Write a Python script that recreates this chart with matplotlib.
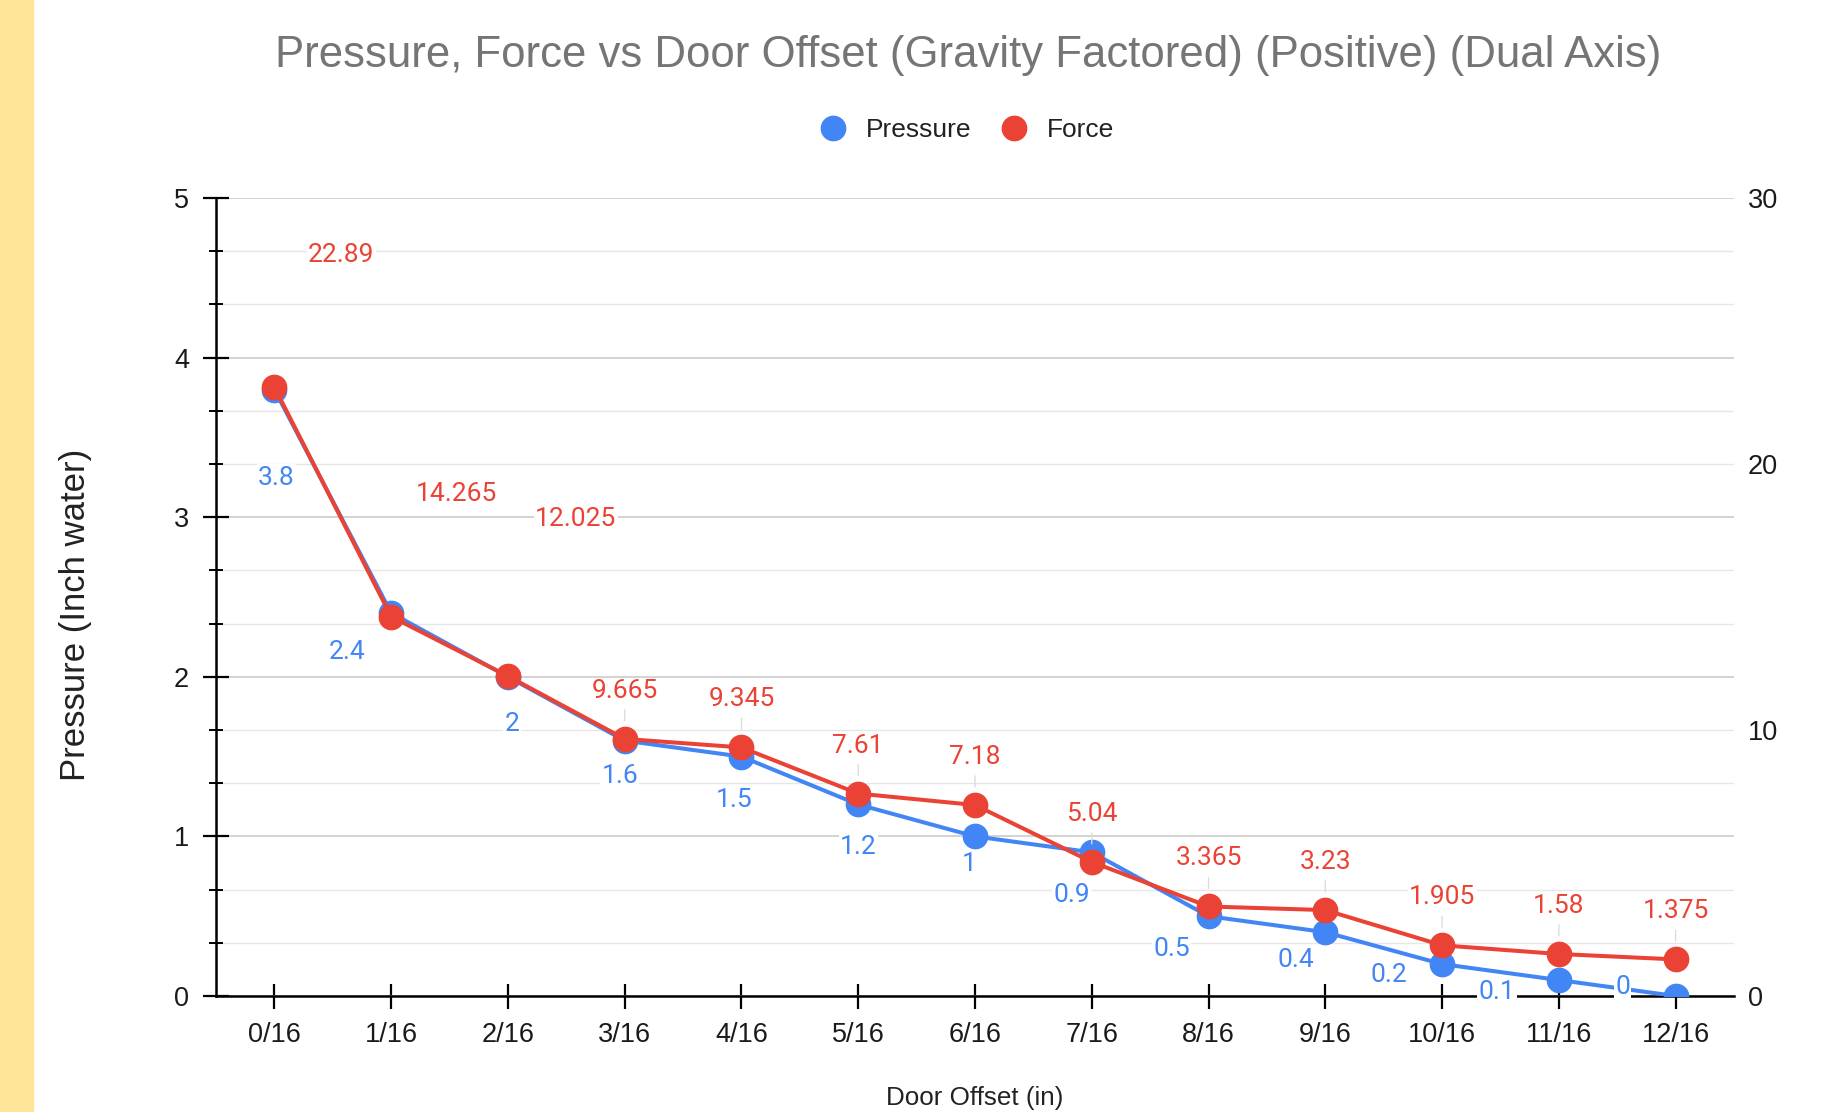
import matplotlib.pyplot as plt
from matplotlib.lines import Line2D
from matplotlib.patches import Rectangle
from matplotlib.ticker import MultipleLocator

# data
offsets = ['0/16', '1/16', '2/16', '3/16', '4/16', '5/16', '6/16',
           '7/16', '8/16', '9/16', '10/16', '11/16', '12/16']
pressure = [3.8, 2.4, 2, 1.6, 1.5, 1.2, 1, 0.9, 0.5, 0.4, 0.2, 0.1, 0]
force = [22.89, 14.265, 12.025, 9.665, 9.345, 7.61, 7.18, 5.04,
         3.365, 3.23, 1.905, 1.58, 1.375]
pressure_text = ['3.8', '2.4', '2', '1.6', '1.5', '1.2', '1', '0.9',
                 '0.5', '0.4', '0.2', '0.1', '0']
force_text = ['22.89', '14.265', '12.025', '9.665', '9.345', '7.61', '7.18',
              '5.04', '3.365', '3.23', '1.905', '1.58', '1.375']

# label placement (pixel offsets from the point), like the original chart
pressure_off = [(2, -88), (-44, -39), (4, -47), (-5, -35), (-7, -43), (0, -43),
                (-6, -28), (-20, -43), (-37, -33), (-29, -28), (-53, -11),
                (-62, -12), (-53, 9)]
force_off = [(67, 132), (65, 123), (68, 157)] + [(0, 48)] * 10

BLUE = '#4285F4'
RED = '#EA4335'
ARIAL = 'Liberation Sans'
TICK_FS = 19.5
LABEL_FS = 19

fig = plt.figure(figsize=(18.31, 11.12), dpi=100)
fig.patches.append(Rectangle((0, 0), 33 / 1831, 1, transform=fig.transFigure,
                             color='#FFE599', zorder=0))

ax = fig.add_axes([216 / 1831, 1 - 996 / 1112, 1518 / 1831, 798 / 1112])
ax2 = ax.twinx()

x = list(range(len(offsets)))
ax.plot(x, pressure, color=BLUE, lw=2.9, marker='o', ms=17.5, zorder=3)
ax2.plot(x, force, color=RED, lw=2.9, marker='o', ms=17.5, zorder=3)

ax.set_xlim(-0.5, len(offsets) - 0.5)
ax.set_ylim(0, 5)
ax2.set_ylim(0, 30)

ax.set_xticks(x)
ax.set_xticklabels(offsets, fontsize=TICK_FS, family=ARIAL, color='#1a1a1a')
ax.set_yticks(range(6))
ax.set_yticklabels([str(v) for v in range(6)], fontsize=TICK_FS, family=ARIAL,
                   color='#1a1a1a')
ax.yaxis.set_minor_locator(MultipleLocator(1 / 3))
ax.tick_params(axis='x', direction='inout', length=18, width=1.6, pad=10)
ax.tick_params(axis='y', which='major', direction='inout', length=19,
               width=1.6, pad=10)
ax.tick_params(axis='y', which='minor', direction='inout', length=10, width=1.4)
ax.grid(True, axis='y', which='major', color='#cccccc', lw=1.2)
ax.grid(True, axis='y', which='minor', color='#e6e6e6', lw=1.0)
ax.set_axisbelow(True)

ax2.set_yticks([0, 10, 20, 30])
ax2.set_yticklabels(['0', '10', '20', '30'], fontsize=TICK_FS, family=ARIAL,
                    color='#1a1a1a')
ax2.tick_params(axis='y', length=0, pad=10)

for a in (ax, ax2):
    a.spines['top'].set_visible(False)
    a.spines['right'].set_visible(False)
    a.spines['left'].set_linewidth(1.8)
    a.spines['bottom'].set_linewidth(1.8)
ax2.spines['left'].set_visible(False)
ax2.spines['bottom'].set_visible(False)

bg = dict(boxstyle='square,pad=0.05', fc='white', ec='none')
for i, (v, t) in enumerate(zip(pressure, pressure_text)):
    ax2.annotate(t, (i, v), xycoords=ax.transData, xytext=pressure_off[i],
                 textcoords='offset pixels', ha='center', va='center',
                 fontsize=LABEL_FS, family='Roboto', color=BLUE, bbox=bg,
                 zorder=5)
for i, (v, t) in enumerate(zip(force, force_text)):
    lead = None
    if force_off[i][0] == 0:
        lead = dict(arrowstyle='-', color='#dddddd', lw=1, shrinkA=4, shrinkB=13)
    ax2.annotate(t, (i, v), xytext=force_off[i], textcoords='offset pixels',
                 ha='center', va='center', fontsize=LABEL_FS, family='Roboto',
                 color=RED, bbox=bg, arrowprops=lead, zorder=5)

fig.text(0.529, 1 - 55 / 1112, 'Pressure, Force vs Door Offset (Gravity Factored) (Positive) (Dual Axis)',
         ha='center', va='center', fontsize=31.5, family=ARIAL, color='#757575')

handles = [Line2D([], [], ls='none', marker='o', ms=17.5, color=BLUE),
           Line2D([], [], ls='none', marker='o', ms=17.5, color=RED)]
fig.legend(handles, ['Pressure', 'Force'], loc='center',
           bbox_to_anchor=(0.528, 1 - 130 / 1112), ncol=2, frameon=False,
           handlelength=1, handletextpad=0.75, columnspacing=1.1,
           prop=dict(family=ARIAL, size=19), labelcolor='#222222')

fig.text(76 / 1831, 1 - 615 / 1112, 'Pressure (Inch water)', rotation=90,
         ha='center', va='center', fontsize=25, family=ARIAL, color='#222222')
fig.text(975 / 1831, 1 - 1098 / 1112, 'Door Offset (in)', ha='center',
         va='center', fontsize=18.7, family=ARIAL, color='#222222')

fig.savefig('out.png', dpi=100)
